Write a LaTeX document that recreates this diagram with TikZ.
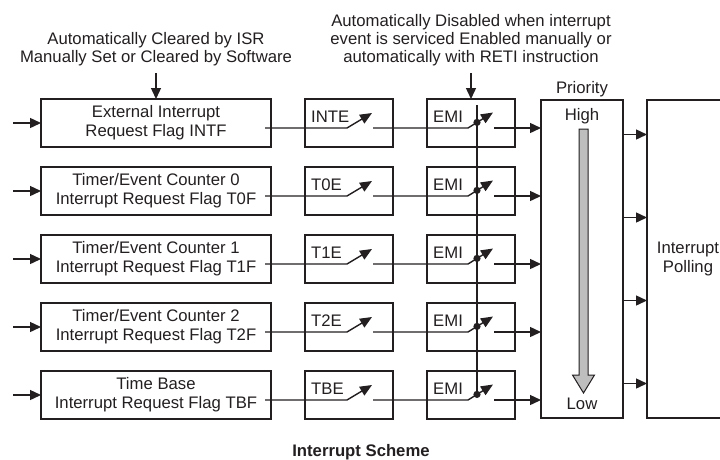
\documentclass[tikz,border=0pt]{standalone}
\usepackage{fontspec}
\setmainfont{Liberation Sans}
\usetikzlibrary{arrows.meta,positioning,calc}
\definecolor{ink}{RGB}{35,31,32}
\definecolor{bargray}{RGB}{190,190,190}
\tikzset{
  flagbox/.style={rectangle,draw=ink,line width=1.4pt,minimum width=230pt,
                  minimum height=48pt,inner sep=0pt,outer sep=0pt,align=center},
  swbox/.style={rectangle,draw=ink,line width=1.4pt,minimum width=88pt,
                minimum height=48pt,inner sep=0pt,outer sep=0pt,
                label={[anchor=north west,inner sep=0pt,xshift=6pt,yshift=-12pt]north west:#1}},
  bigbox/.style={rectangle,draw=ink,line width=1.4pt,minimum width=82pt,
                 minimum height=318pt,inner sep=0pt,outer sep=0pt,align=center},
  note/.style={align=center,inner sep=0pt,font=\fontsize{16.7pt}{18pt}\selectfont},
  arr/.style={-{Triangle[length=11pt,width=10pt]},line width=1.4pt,draw=ink},
  lever/.style={-{Triangle[length=12pt,width=10pt]},line width=1.4pt,draw=ink},
  wire/.style={line width=1.4pt,draw=ink},
}

\begin{document}
\begin{tikzpicture}[x=1pt,y=-1pt,font=\fontsize{16.7pt}{19pt}\selectfont,text=ink]
  \useasboundingbox (0,0) rectangle (720,459);
  \clip (0,0) rectangle (720,459);

  % --- interrupt request flags ---
  \node[flagbox] (flag1) at (156,123) {External Interrupt\\Request Flag INTF};
  \node[flagbox, below=20pt of flag1] (flag2) {Timer/Event Counter 0\\Interrupt Request Flag T0F};
  \node[flagbox, below=20pt of flag2] (flag3) {Timer/Event Counter 1\\Interrupt Request Flag T1F};
  \node[flagbox, below=20pt of flag3] (flag4) {Timer/Event Counter 2\\Interrupt Request Flag T2F};
  \node[flagbox, below=20pt of flag4] (flag5) {Time Base\\Interrupt Request Flag TBF};

  % --- enable switches ---
  \node[swbox=INTE, right=34pt of flag1] (en1) {};
  \node[swbox=T0E, right=34pt of flag2] (en2) {};
  \node[swbox=T1E, right=34pt of flag3] (en3) {};
  \node[swbox=T2E, right=34pt of flag4] (en4) {};
  \node[swbox=TBE, right=34pt of flag5] (en5) {};

  \node[swbox=EMI, right=34pt of en1] (emi1) {};
  \node[swbox=EMI, right=34pt of en2] (emi2) {};
  \node[swbox=EMI, right=34pt of en3] (emi3) {};
  \node[swbox=EMI, right=34pt of en4] (emi4) {};
  \node[swbox=EMI, right=34pt of en5] (emi5) {};

  % --- priority and polling ---
  \node[bigbox, right=26pt of emi3,
        label={[inner sep=0pt,yshift=3pt]above:Priority},
        label={[anchor=north,inner sep=0pt,yshift=-8pt]north:High},
        label={[anchor=south,inner sep=0pt,yshift=8pt]south:Low}] (prio) {};
  \node[bigbox, right=24pt of prio] (poll) {Interrupt\\Polling};

  % --- notes on top ---
  \node[note, above=33pt of flag1] (note1)
    {Automatically Cleared by ISR\\Manually Set or Cleared by Software};
  \node[note, above=33pt of emi1] (note2)
    {Automatically Disabled when interrupt\\event is serviced Enabled manually or\\automatically with RETI instruction};

  \draw[arr, shorten <=7pt] (note1) -- (flag1);
  \draw[arr, shorten <=7pt] (note2) -- (emi1);

  % --- wiring of each row ---
  \draw[wire] ($(emi1.north)+(6,6)$) -- ($(emi5.center)+(6,0)$);
  \foreach \i in {1,...,5}{
    \coordinate[left=28pt of flag\i] (in\i);
    \draw[arr] (in\i) -- (flag\i);
    \coordinate (a\i) at ($(flag\i.east)+(-6,5)$);
    \coordinate (b\i) at ($(en\i.west)+(42,5)$);
    \coordinate (c\i) at ($(en\i.west)+(68,5)$);
    \coordinate (d\i) at ($(emi\i.west)+(41,5)$);
    \coordinate (e\i) at ($(emi\i.west)+(67,5)$);
    \draw[lever] (a\i) -- (b\i) -- ++(25,-15);
    \draw[lever] (c\i) -- (d\i) -- ++(25,-15.5);
    \fill[ink] ($(emi\i.west)+(50,-0.6)$) circle (3.6pt);
    \draw[arr] (e\i) -- (e\i -| prio.west);
  }

  \foreach \dy in {-124.5,-41.5,41.5,124.5}
    \draw[arr] ($(prio.east)+(0,\dy)$) -- ($(poll.west)+(0,\dy)$);

  % --- high to low arrow ---
  \coordinate (pa) at ($(prio.center)+(1.5,0)$);
  \filldraw[fill=bargray,draw=ink,line width=1pt]
    ($(pa)+(-4.5,-130)$) -- ++(9,0) -- ++(0,246) -- ++(6.5,0)
    -- ++(-11,18) -- ++(-11,-18) -- ++(6.5,0) -- cycle;

  \node[font=\bfseries\fontsize{16.7pt}{19pt}\selectfont, anchor=base] (caption)
    at (361,456) {Interrupt Scheme};
\end{tikzpicture}
\end{document}
